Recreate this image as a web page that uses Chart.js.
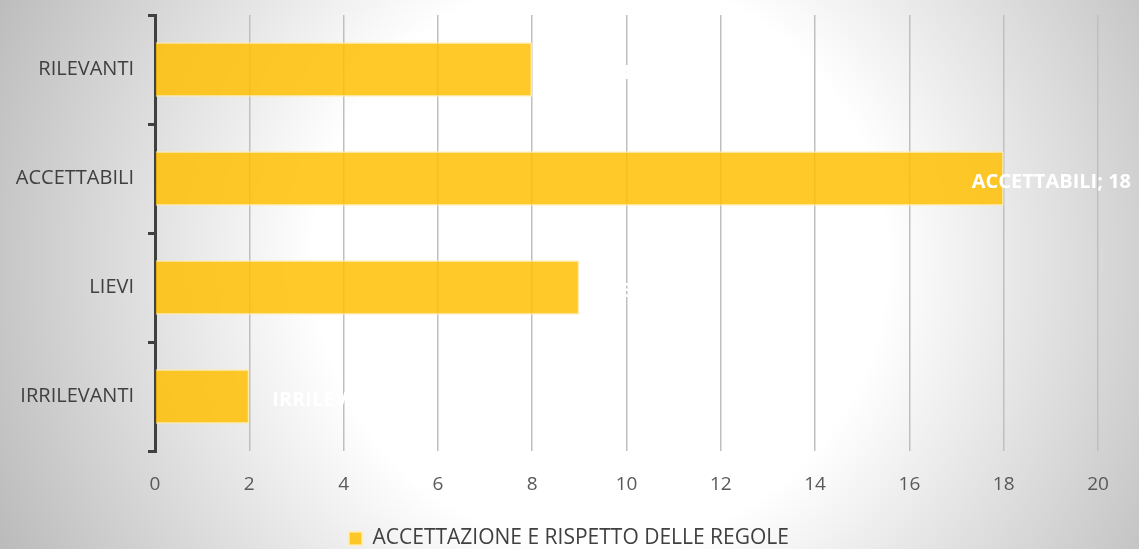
<!DOCTYPE html>
<html lang="it">
<head>
<meta charset="UTF-8">
<title>Accettazione e rispetto delle regole</title>
<script src="https://cdn.jsdelivr.net/npm/chart.js@4.4.1/dist/chart.umd.min.js"></script>
<style>
  html, body { margin: 0; padding: 0; background: #fff; }
  .wrap { width: 1139px; height: 549px; }
</style>
</head>
<body>
<div class="wrap"><canvas id="chart" width="1139" height="549"></canvas></div>
<script>
  const categories = ['RILEVANTI', 'ACCETTABILI', 'LIEVI', 'IRRILEVANTI'];
  const values = [8, 18, 9, 2];
  const seriesName = 'ACCETTAZIONE E RISPETTO DELLE REGOLE';

  // sfondo grigio con centro bianco
  const bgPlugin = {
    id: 'bg',
    beforeDraw(chart) {
      const ctx = chart.ctx;
      const w = chart.width, h = chart.height;
      const g = ctx.createRadialGradient(600, 260, 0, 600, 260, 680);
      g.addColorStop(0, '#ffffff');
      g.addColorStop(0.42, '#ffffff');
      g.addColorStop(1, '#b8b8b8');
      ctx.save();
      ctx.fillStyle = g;
      ctx.fillRect(0, 0, w, h);
      ctx.restore();
    }
  };

  // legenda centrata sulla tela intera
  const legendShift = {
    id: 'legendShift',
    afterLayout(chart) {
      if (chart.legend) {
        chart.legend.left += 20;
        chart.legend.right += 20;
      }
    }
  };

  // etichette bianche "CATEGORIA; valore"
  const labelPlugin = {
    id: 'barLabels',
    afterDatasetsDraw(chart) {
      const ctx = chart.ctx;
      const meta = chart.getDatasetMeta(0);
      ctx.save();
      ctx.font = 'bold 20px "Open Sans", sans-serif';
      ctx.fillStyle = '#ffffff';
      ctx.textBaseline = 'middle';
      meta.data.forEach((bar, i) => {
        const txt = categories[i] + '; ' + values[i];
        const tw = ctx.measureText(txt).width;
        let x = bar.x + 23;
        if (x + tw > chart.width - 8) x = chart.width - 8 - tw;
        ctx.fillText(txt, x, bar.y + 4);
      });
      ctx.restore();
    }
  };

  new Chart(document.getElementById('chart'), {
    type: 'bar',
    data: {
      labels: categories,
      datasets: [{
        label: seriesName,
        data: values,
        backgroundColor: 'rgba(255, 192, 0, 0.84)',
        borderColor: 'rgba(255, 236, 170, 0.9)',
        borderWidth: 1.5,
        barPercentage: 0.5,
        categoryPercentage: 1
      }]
    },
    options: {
      indexAxis: 'y',
      responsive: false,
      animation: false,
      layout: { padding: { top: 15, right: 41, left: 0, bottom: -10 } },
      scales: {
        x: {
          min: 0, max: 20,
          ticks: { stepSize: 2, color: '#595959', padding: 22, font: { family: '"Open Sans", sans-serif', size: 19 } },
          grid: { color: '#bfbfbf', lineWidth: 1.5, drawTicks: false },
          border: { display: false },
          afterFit(scale) { scale.height = 74; }
        },
        y: {
          ticks: { color: '#404040', padding: 14, font: { family: '"Open Sans", sans-serif', size: 20 } },
          grid: { offset: true, drawOnChartArea: false, tickLength: 7, color: '#404040', lineWidth: 3 },
          border: { display: true, color: '#404040', width: 3 },
          afterFit(scale) {
            scale.width = 155;
            scale.paddingTop = 0;
            scale.paddingBottom = 0;
          }
        }
      },
      plugins: {
        legend: {
          position: 'bottom',
          labels: {
            color: '#404040',
            boxWidth: 13, boxHeight: 13,
            padding: 3,
            font: { family: '"Open Sans", sans-serif', size: 21 }
          }
        },
        tooltip: { enabled: false }
      }
    },
    plugins: [bgPlugin, legendShift, labelPlugin]
  });
</script>
</body>
</html>
